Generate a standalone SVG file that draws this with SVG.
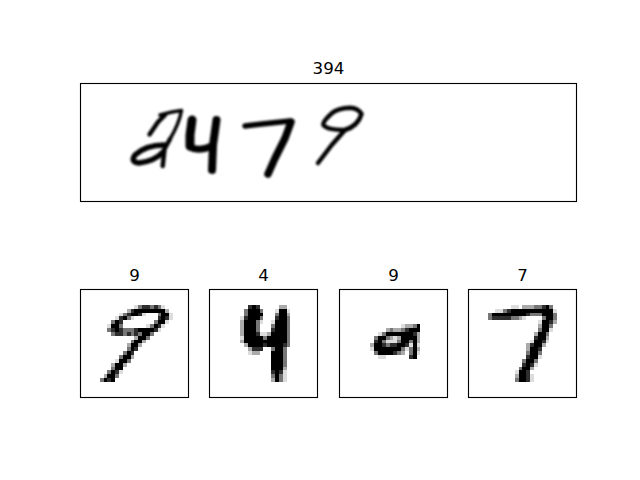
<svg xmlns="http://www.w3.org/2000/svg" width="640" height="480" viewBox="0 0 640 480">
<style>
.t{font-family:"DejaVu Sans",sans-serif;font-size:16.67px;text-anchor:middle;fill:#000}
.f{fill:none;stroke:#000;stroke-width:1.11}
.px path{fill:none;stroke-width:1;shape-rendering:crispEdges}
.a{stroke:#000}.b{stroke:#2e2e2e}.c{stroke:#777}.d{stroke:#aaa}.e{stroke:#ddd}
.s{fill:none;stroke:#000;stroke-linecap:round;stroke-linejoin:round}
</style>
<defs><filter id="bl" x="-10%" y="-10%" width="120%" height="120%"><feGaussianBlur stdDeviation="1"/></filter></defs>
<rect width="640" height="480" fill="#fff"/>
<g id="strip">
<text class="t" x="328.500" y="74">394</text>
<g filter="url(#bl)">
<path class="s" stroke-width="4.500" d="M149.500 134.500L158 122L165 115"/>
<path class="s" stroke-width="3.500" d="M160 115L172 112L181.500 110.500Q179 124 170 139"/>
<path class="s" stroke-width="4.500" d="M170 139L164.500 149L162.700 166"/>
<path class="s" stroke-width="5.500" d="M164 145Q146 145 135 155Q130 162 139 163Q155 161 163 152"/>
<path class="s" stroke-width="9" d="M192 120L190 135L190 146"/>
<path class="s" stroke-width="7" d="M190 147Q198 152 212 146"/>
<path class="s" stroke-width="8" d="M216.500 120L213 145L212 170"/>
<path class="s" stroke-width="5.500" d="M245 126L261.700 124L290 121"/>
<path class="s" stroke-width="7.500" d="M291 122L285 138.300L275 158.300L268 174"/>
<path class="s" stroke-width="4.500" d="M361.500 114Q358 108 350 107.700Q338 108 331.700 113.300Q322 122 323.500 125Q327 130 345 130Q358 126 361.500 114"/>
<path class="s" stroke-width="4.500" d="M345 130L331.700 145L318 163"/>
</g>
<rect class="f" x="80.500" y="83.500" width="496" height="118"/>
</g>
<g id="digit1">
<text class="t" x="134.500" y="281">9</text>
<g class="px" transform="translate(80.500 289.500) scale(3.857)">
<path class="a" d="M14 5.500h8M13 6.500h2M21 6.500h2M11 7.500h1M21 7.500h1M9 8.500h1M20 8.500h2M8 9.500h2M19 9.500h1M9 10.500h1M15 10.500h4M16 11.500h2M15 12.500h2M14 13.500h2M13 14.500h2M13 15.500h1M12 16.500h1M11 17.500h2M10 18.500h2M9 19.500h2M9 20.500h2M8 21.500h1M7 22.500h2M6 23.500h1M8 23.500h1"/>
<path class="b" d="M16 4.500h2M19 4.500h1M13 5.500h1M12 6.500h1M15 6.500h1M10 7.500h1M20 7.500h1M22 7.500h1M10 8.500h1M20 9.500h1M8 10.500h1M10 10.500h1M14 10.500h1M19 10.500h1M9 11.500h2M12 11.500h1M14 11.500h1M14 15.500h1M13 16.500h1M9 21.500h1M7 23.500h1"/>
<path class="c" d="M15 4.500h1M18 4.500h1M20 4.500h1M11 6.500h1M20 6.500h1M12 7.500h1M8 8.500h1M19 8.500h1M10 9.500h1M18 9.500h1M7 10.500h1M11 10.500h3M8 11.500h1M11 11.500h1M13 11.500h1M15 11.500h1M18 11.500h1M17 12.500h1M13 13.500h1M12 15.500h1M11 16.500h1M10 17.500h1M12 18.500h1M8 20.500h1M7 21.500h1M9 22.500h1M5 23.500h1"/>
<path class="d" d="M12 5.500h1M22 5.500h1M14 12.500h1M16 13.500h1M12 14.500h1M15 14.500h1M13 17.500h1M8 19.500h1M11 19.500h1M6 22.500h1"/>
<path class="e" d="M14 4.500h1M21 4.500h1M10 6.500h1M16 6.500h1M23 6.500h1M9 7.500h1M13 7.500h1M23 7.500h1M22 8.500h1M7 9.500h1M17 9.500h1M21 9.500h1M20 10.500h1M9 18.500h1M10 21.500h1"/>
</g>
<rect class="f" x="80.500" y="289.500" width="108" height="108"/>
</g>
<g id="digit2">
<text class="t" x="263.500" y="281">4</text>
<g class="px" transform="translate(209.500 289.500) scale(3.857)">
<path class="a" d="M11 4.500h1M10 5.500h3M18 5.500h2M10 6.500h4M18 6.500h2M10 7.500h3M18 7.500h2M9 8.500h3M17 8.500h3M9 9.500h3M17 9.500h3M9 10.500h3M17 10.500h3M9 11.500h3M16 11.500h4M9 12.500h5M15 12.500h5M9 13.500h11M10 14.500h4M15 14.500h4M17 15.500h2M16 16.500h3M16 17.500h3M16 18.500h3M16 19.500h3M16 20.500h3M17 21.500h1M17 22.500h1M17 23.500h1"/>
<path class="b" d="M10 4.500h1M12 4.500h1M9 7.500h1M17 7.500h1M16 10.500h1M12 11.500h1M14 14.500h1M19 14.500h1M11 15.500h3M16 21.500h1M18 21.500h1"/>
<path class="c" d="M9 5.500h1M13 5.500h1M9 6.500h1M17 6.500h1M13 7.500h1M20 7.500h1M12 8.500h1M20 8.500h1M12 9.500h1M16 9.500h1M20 9.500h1M12 10.500h1M20 10.500h1M20 11.500h1M14 12.500h1M20 12.500h1M20 13.500h1M20 14.500h1M16 15.500h1M19 15.500h1M19 16.500h1M19 17.500h1M19 18.500h1M19 19.500h1M16 22.500h1M18 22.500h1M18 23.500h1"/>
<path class="d" d="M18 4.500h2M20 6.500h1M8 8.500h1M8 9.500h1M8 10.500h1M8 11.500h1M15 11.500h1M8 13.500h1M9 14.500h1M10 15.500h1M11 16.500h2M19 20.500h1M16 23.500h1"/>
<path class="e" d="M17 5.500h1M20 5.500h1M8 7.500h1M13 8.500h1M16 8.500h1M13 11.500h2M8 12.500h1M10 16.500h1M19 21.500h1M19 22.500h1M19 23.500h1"/>
</g>
<rect class="f" x="209.500" y="289.500" width="108" height="108"/>
</g>
<g id="digit3">
<text class="t" x="393.500" y="281">9</text>
<g class="px" transform="translate(339.500 289.500) scale(3.857)">
<path class="a" d="M20 9.500h1M18 10.500h3M12 11.500h7M10 12.500h2M16 12.500h4M10 13.500h1M16 13.500h2M19 13.500h1M9 14.500h2M15 14.500h2M19 14.500h1M9 15.500h7M19 15.500h1M10 16.500h4M19 16.500h1M19 17.500h1"/>
<path class="b" d="M17 10.500h1M19 11.500h1M9 13.500h1M11 14.500h1M13 14.500h2M17 14.500h1M14 16.500h1M18 17.500h1"/>
<path class="c" d="M19 9.500h1M13 10.500h1M16 10.500h1M11 11.500h1M9 12.500h1M12 12.500h1M11 13.500h1M15 13.500h1M18 13.500h1M12 14.500h1M16 15.500h1M18 15.500h1M9 16.500h1M15 16.500h1M18 16.500h1"/>
<path class="d" d="M17 9.500h2M12 10.500h1M14 10.500h2M20 11.500h1M13 12.500h1M15 12.500h1M20 12.500h1M20 13.500h1M8 14.500h1M20 15.500h1M16 16.500h1"/>
<path class="e" d="M16 9.500h1M10 11.500h1M14 12.500h1M12 13.500h3M18 14.500h1M20 14.500h1M8 15.500h1M17 15.500h1M20 16.500h1M10 17.500h2"/>
</g>
<rect class="f" x="339.500" y="289.500" width="108" height="108"/>
</g>
<g id="digit4">
<text class="t" x="522.500" y="281">7</text>
<g class="px" transform="translate(468.500 289.500) scale(3.857)">
<path class="a" d="M20 4.500h1M11 5.500h11M6 6.500h9M19 6.500h3M20 7.500h2M19 8.500h2M19 9.500h2M19 10.500h2M18 11.500h2M18 12.500h2M17 13.500h2M17 14.500h2M16 15.500h2M16 16.500h2M16 17.500h2M15 18.500h2M15 19.500h1M14 20.500h2M13 21.500h2M13 22.500h2M13 23.500h2"/>
<path class="b" d="M19 4.500h1M10 5.500h1M15 6.500h1M6 7.500h5M21 8.500h1M17 12.500h1M19 13.500h1M16 14.500h1M18 15.500h1M15 17.500h1M14 19.500h1M16 19.500h1M15 21.500h1M15 22.500h1M15 23.500h1"/>
<path class="c" d="M17 4.500h2M21 4.500h1M9 5.500h1M5 6.500h1M16 6.500h3M22 6.500h1M5 7.500h1M11 7.500h2M19 7.500h1M22 7.500h1M21 9.500h1M18 10.500h1M20 11.500h1M15 16.500h1M18 16.500h1M14 18.500h1M17 18.500h1M13 20.500h1M12 23.500h1"/>
<path class="d" d="M14 4.500h3M13 7.500h1M22 8.500h1M18 9.500h1M17 11.500h1M20 12.500h1M15 14.500h1M19 14.500h1M15 15.500h1M16 20.500h1M12 22.500h1"/>
<path class="e" d="M11 4.500h2M7 5.500h2M22 5.500h1M14 7.500h1M18 8.500h1M21 10.500h1M16 13.500h1M20 13.500h1M18 17.500h1M17 19.500h1M12 21.500h1M16 22.500h1M16 23.500h1"/>
</g>
<rect class="f" x="468.500" y="289.500" width="108" height="108"/>
</g>
</svg>
